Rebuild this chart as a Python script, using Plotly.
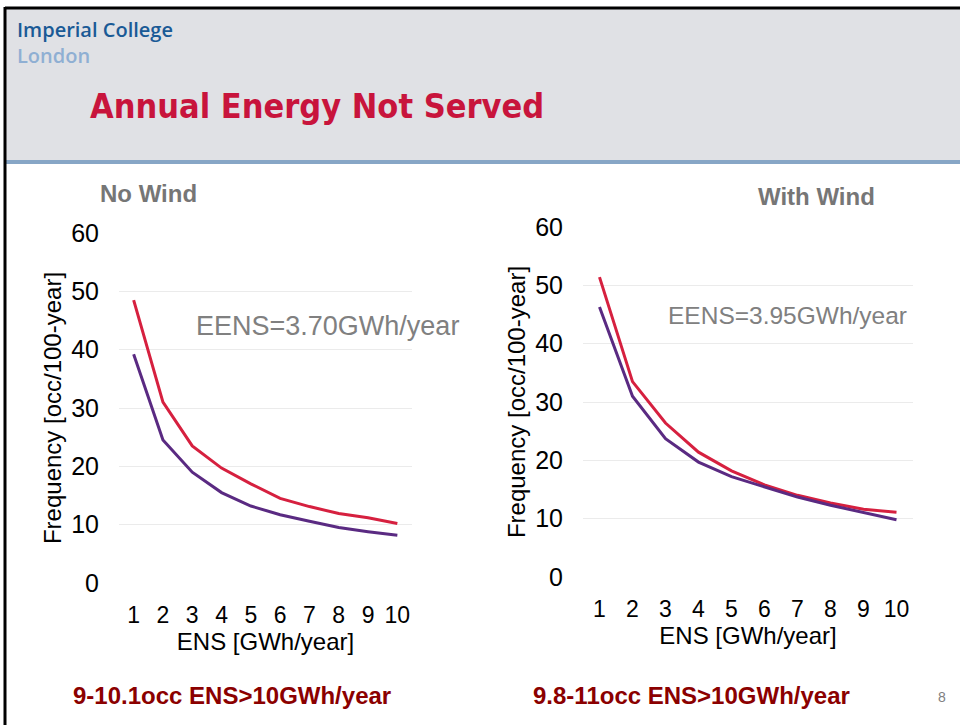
import plotly.graph_objects as go

ens = [1, 2, 3, 4, 5, 6, 7, 8, 9, 10]
ens_labels = [str(v) for v in ens]

# No Wind
nowind_red = [48.5, 31.0, 23.5, 19.7, 17.0, 14.5, 13.1, 11.9, 11.2, 10.2]
nowind_purple = [39.2, 24.5, 19.0, 15.5, 13.2, 11.7, 10.6, 9.5, 8.8, 8.2]

# With Wind
wind_red = [51.4, 33.5, 26.4, 21.4, 18.2, 15.8, 14.0, 12.7, 11.6, 11.1]
wind_purple = [46.3, 31.0, 23.7, 19.7, 17.2, 15.4, 13.7, 12.3, 11.0, 9.8]

y_ticks = [0, 10, 20, 30, 40, 50, 60]

RED = "#D6203F"
PURPLE = "#5A2A82"
W, H = 960, 725
FONT = "Liberation Sans, Arial, sans-serif"

fig = go.Figure()
fig.add_trace(go.Scatter(x=ens_labels, y=nowind_red, mode="lines", line=dict(color=RED, width=3), xaxis="x", yaxis="y"))
fig.add_trace(go.Scatter(x=ens_labels, y=nowind_purple, mode="lines", line=dict(color=PURPLE, width=3), xaxis="x", yaxis="y"))
fig.add_trace(go.Scatter(x=ens_labels, y=wind_red, mode="lines", line=dict(color=RED, width=3), xaxis="x2", yaxis="y2"))
fig.add_trace(go.Scatter(x=ens_labels, y=wind_purple, mode="lines", line=dict(color=PURPLE, width=3), xaxis="x2", yaxis="y2"))

def px_x(v):
    return v / W

def px_y(v):
    return 1 - v / H

xa = dict(type="category", range=[-0.5, 9.5], showgrid=False, zeroline=False, showline=False, automargin=False,
          tickfont=dict(size=23, color="black", family=FONT), ticklabelstandoff=16,
          title=dict(text="ENS [GWh/year]", font=dict(size=24, color="black", family=FONT), standoff=6))
ya = dict(range=[0, 60], tickvals=y_ticks, showgrid=True, gridcolor="#EBEBEB", gridwidth=1, zeroline=False,
          showline=False, automargin=False, tickfont=dict(size=25, color="black", family=FONT), ticklabelstandoff=19,
          title=dict(text="Frequency [occ/100-year]", font=dict(size=24, color="black", family=FONT), standoff=2))

fig.update_layout(
    width=W, height=H, margin=dict(l=0, r=0, t=0, b=0, autoexpand=False),
    paper_bgcolor="white", plot_bgcolor="white", showlegend=False,
    xaxis=dict(xa, domain=[px_x(119), px_x(412)], anchor="y"),
    yaxis=dict(ya, domain=[px_y(583), px_y(233)], anchor="x"),
    xaxis2=dict(xa, domain=[px_x(583), px_x(913)], anchor="y2"),
    yaxis2=dict(ya, domain=[px_y(577), px_y(227)], anchor="x2"),
)

shapes = [
    dict(type="rect", xref="paper", yref="paper", x0=px_x(5), x1=1, y0=px_y(160), y1=px_y(8),
         fillcolor="#E0E1E5", line=dict(width=0), layer="below"),
    dict(type="rect", xref="paper", yref="paper", x0=px_x(5), x1=1, y0=px_y(164), y1=px_y(160),
         fillcolor="#87A6C6", line=dict(width=0), layer="below"),
    dict(type="line", xref="paper", yref="paper", x0=px_x(5), x1=1, y0=px_y(8), y1=px_y(8),
         line=dict(color="black", width=3)),
    dict(type="line", xref="paper", yref="paper", x0=px_x(5), x1=px_x(5), y0=0, y1=px_y(7),
         line=dict(color="black", width=3)),
]
fig.update_layout(shapes=shapes)

def note(x, y, text, size, color, bold=False, family=FONT, xanchor="left", weight=None):
    t = f"<b>{text}</b>" if bold else text
    f = dict(size=size, color=color, family=family)
    if weight:
        f["weight"] = weight
    fig.add_annotation(xref="paper", yref="paper", x=px_x(x), y=px_y(y), text=t, showarrow=False,
                       xanchor=xanchor, yanchor="middle", font=f)

note(15, 29, "Imperial College", 20, "#1A5A96", family="Open Sans, sans-serif", weight=600)
note(15, 55, "London", 20, "#8FAFD3", family="Open Sans, sans-serif", weight=600)
note(88, 106, "Annual Energy Not Served", 34, "#C8143C", bold=True,
     family="DejaVu Sans Condensed, Liberation Sans Narrow, sans-serif")
note(98, 193, "No Wind", 24, "#767676", bold=True)
note(756, 197, "With Wind", 24, "#767676", bold=True)
note(194, 326, "EENS=3.70GWh/year", 27, "#808080")
note(666, 315, "EENS=3.95GWh/year", 24.5, "#808080")
note(71, 695, "9-10.1occ ENS&gt;10GWh/year", 24, "#8B0000", bold=True)
note(531, 695, "9.8-11occ ENS&gt;10GWh/year", 24, "#8B0000", bold=True)
note(936, 697, "8", 14, "#808080")

fig.write_html("out.html", config={"displayModeBar": False},
               post_script="document.body.style.margin='0';")
